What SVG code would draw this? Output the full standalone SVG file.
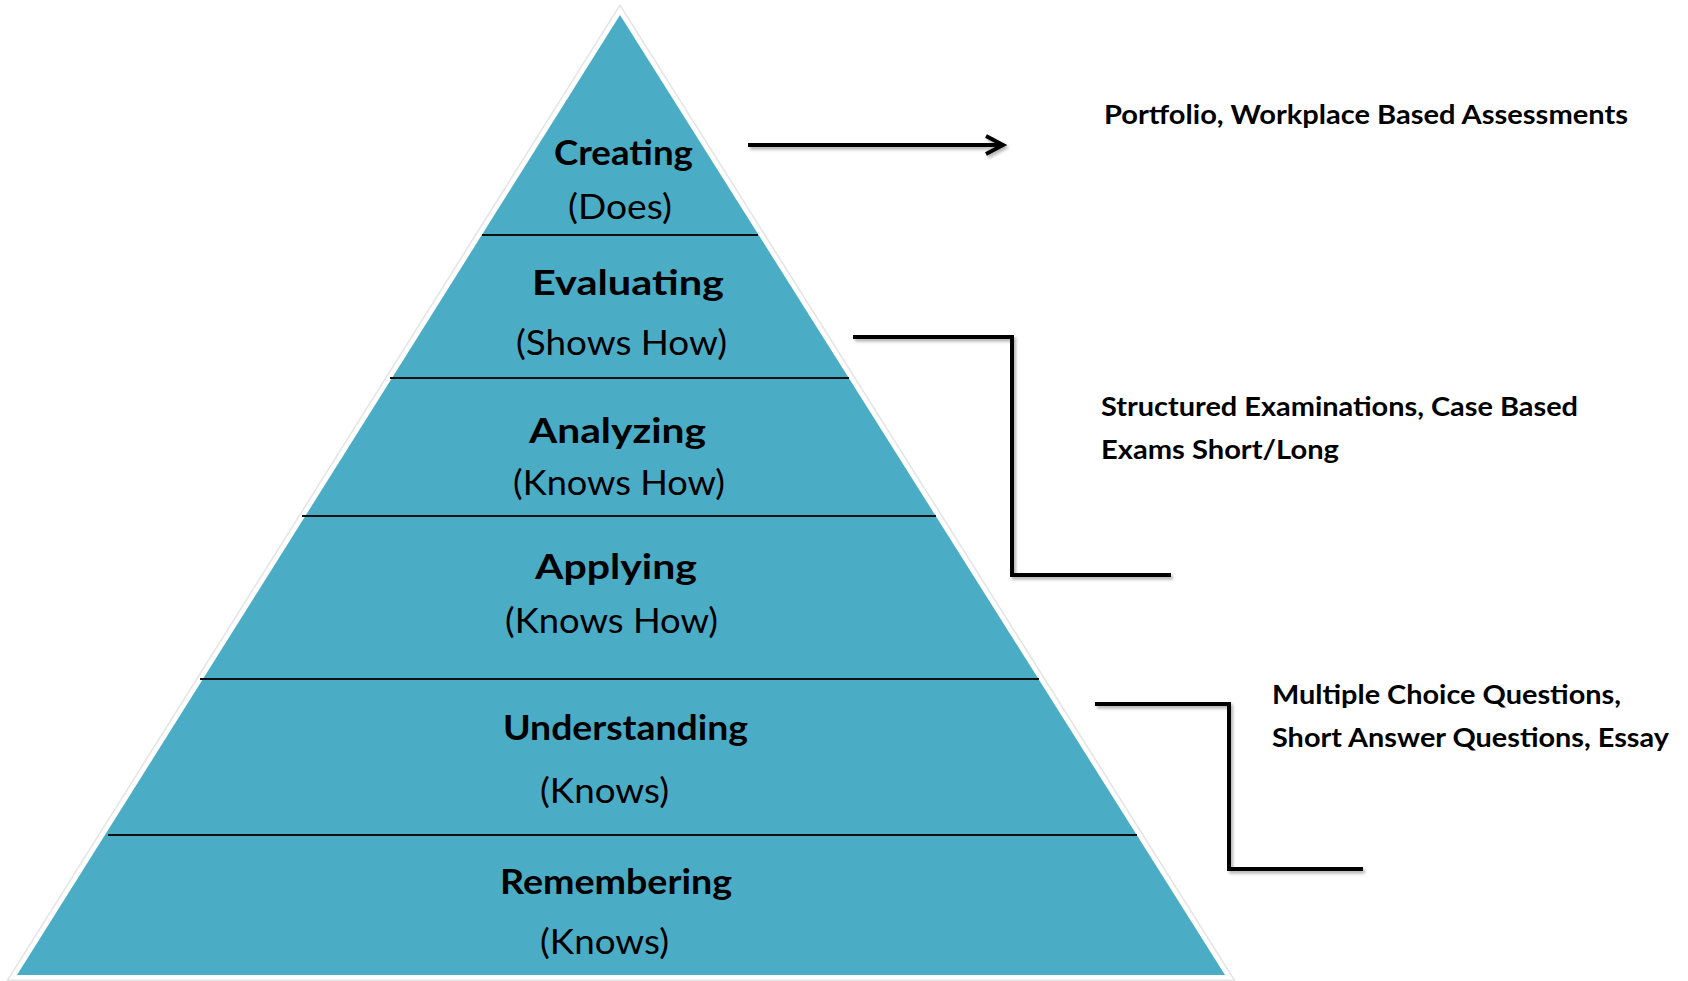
<svg xmlns="http://www.w3.org/2000/svg" width="1688" height="981" viewBox="0 0 1688 981">
  <style>
    .lvl-b { font-family: "Lato", "Open Sans", sans-serif; font-weight: 700; font-size: 35px; fill: #000; }
    .lvl-r { font-family: "Lato", "Open Sans", sans-serif; font-weight: 400; font-size: 35px; fill: #000; }
    .note { font-family: "Lato", "Open Sans", sans-serif; font-weight: 700; font-size: 26px; fill: #000; }
    .divider { stroke: #111; stroke-width: 2; fill: none; }
    .conn { stroke: #000; stroke-width: 4; fill: none; stroke-linejoin: miter; filter: url(#shadow); }
  </style>
  <defs>
    <!-- user-space region so zero-height straight lines still get the shadow -->
    <filter id="shadow" filterUnits="userSpaceOnUse" x="0" y="0" width="1688" height="981">
      <feDropShadow dx="2" dy="2.5" stdDeviation="1.5" flood-color="#000" flood-opacity="0.3"/>
    </filter>
    <marker id="chevron" markerUnits="userSpaceOnUse" markerWidth="26" markerHeight="26" refX="20" refY="12" orient="auto" overflow="visible">
      <path d="M3,3 L20,12 L3,21" fill="none" stroke="#000" stroke-width="4" stroke-linejoin="miter"/>
    </marker>
  </defs>

  <rect width="1688" height="981" fill="#fff"/>

  <!-- pyramid body with white rim -->
  <g id="pyramid">
    <polygon points="620,15 17,975 1225,975" fill="none" stroke="#e4e4e4" stroke-width="12" stroke-linejoin="miter"/>
    <polygon points="620,15 17,975 1225,975" fill="none" stroke="#fff" stroke-width="9" stroke-linejoin="miter"/>
    <polygon points="620,15 17,975 1225,975" fill="#4BACC6"/>
    <line class="divider" x1="482" y1="235" x2="758" y2="235"/>
    <line class="divider" x1="390" y1="378" x2="849" y2="378"/>
    <line class="divider" x1="302" y1="516" x2="936" y2="516"/>
    <line class="divider" x1="200" y1="679" x2="1039" y2="679"/>
    <line class="divider" x1="108" y1="835" x2="1137" y2="835"/>
  </g>

  <g id="level-creating">
    <text class="lvl-b" x="554" y="165" textLength="139" lengthAdjust="spacingAndGlyphs">Creating</text>
    <text class="lvl-r" x="568" y="219" textLength="104" lengthAdjust="spacingAndGlyphs">(Does)</text>
  </g>
  <g id="level-evaluating">
    <text class="lvl-b" x="532" y="295" textLength="192" lengthAdjust="spacingAndGlyphs">Evaluating</text>
    <text class="lvl-r" x="516" y="355" textLength="211" lengthAdjust="spacingAndGlyphs">(Shows How)</text>
  </g>
  <g id="level-analyzing">
    <text class="lvl-b" x="529" y="443" textLength="177" lengthAdjust="spacingAndGlyphs">Analyzing</text>
    <text class="lvl-r" x="513" y="495" textLength="212" lengthAdjust="spacingAndGlyphs">(Knows How)</text>
  </g>
  <g id="level-applying">
    <text class="lvl-b" x="535" y="579" textLength="162" lengthAdjust="spacingAndGlyphs">Applying</text>
    <text class="lvl-r" x="505" y="633" textLength="213" lengthAdjust="spacingAndGlyphs">(Knows How)</text>
  </g>
  <g id="level-understanding">
    <text class="lvl-b" x="503" y="740" textLength="245" lengthAdjust="spacingAndGlyphs">Understanding</text>
    <text class="lvl-r" x="540" y="803" textLength="129" lengthAdjust="spacingAndGlyphs">(Knows)</text>
  </g>
  <g id="level-remembering">
    <text class="lvl-b" x="500" y="894" textLength="232" lengthAdjust="spacingAndGlyphs">Remembering</text>
    <text class="lvl-r" x="540" y="954" textLength="129" lengthAdjust="spacingAndGlyphs">(Knows)</text>
  </g>

  <!-- assessment methods -->
  <g id="note-portfolio">
    <text class="note" x="1104" y="124" textLength="524" lengthAdjust="spacingAndGlyphs">Portfolio, Workplace Based Assessments</text>
  </g>
  <g id="note-structured">
    <text class="note" x="1101" y="416" textLength="477" lengthAdjust="spacingAndGlyphs">Structured Examinations, Case Based</text>
    <text class="note" x="1101" y="459" textLength="238" lengthAdjust="spacingAndGlyphs">Exams Short/Long</text>
  </g>
  <g id="note-mcq">
    <text class="note" x="1272" y="704" textLength="349" lengthAdjust="spacingAndGlyphs">Multiple Choice Questions,</text>
    <text class="note" x="1272" y="747" textLength="397" lengthAdjust="spacingAndGlyphs">Short Answer Questions, Essay</text>
  </g>

  <!-- connectors -->
  <g id="connectors">
    <path class="conn" d="M748,145 L1003,145" marker-end="url(#chevron)"/>
    <path class="conn" d="M853,337 L1012,337 L1012,575 L1171,575"/>
    <path class="conn" d="M1095,704 L1229,704 L1229,869 L1363,869"/>
  </g>
</svg>
